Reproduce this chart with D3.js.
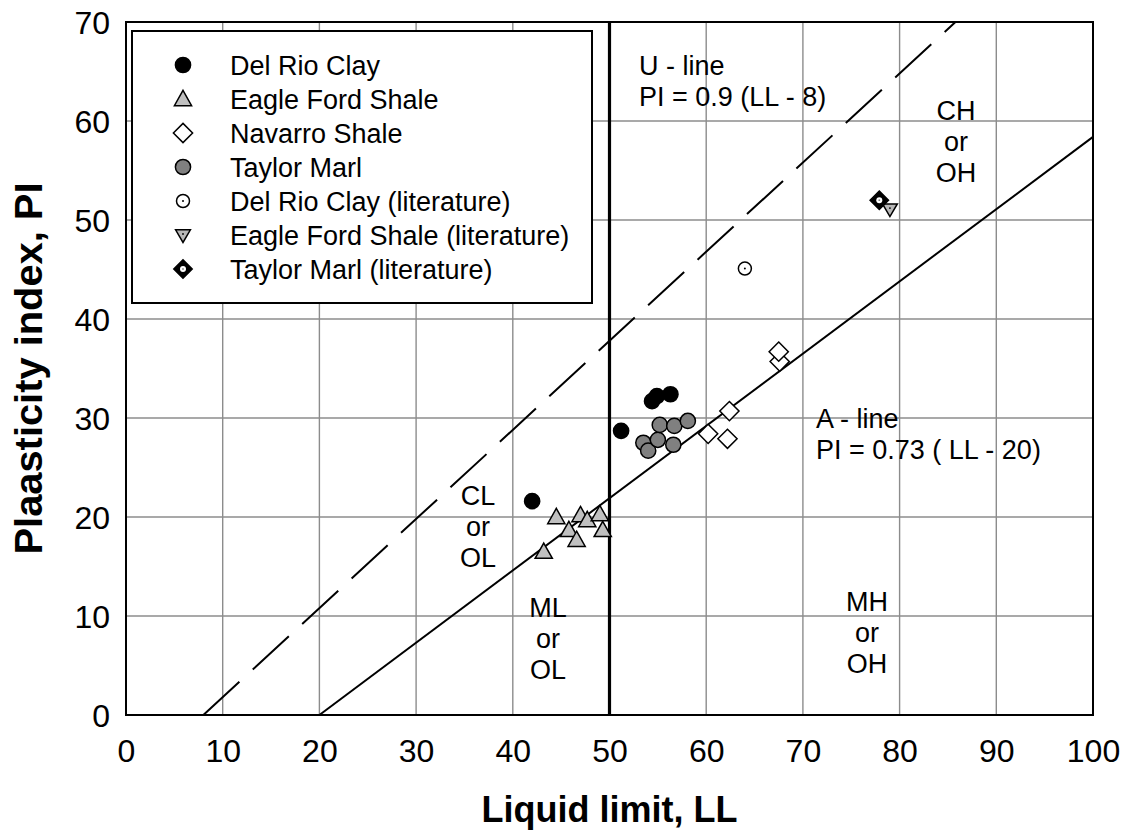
<!DOCTYPE html>
<html>
<head>
<meta charset="utf-8">
<script src="https://cdn.jsdelivr.net/npm/d3@7"></script>
<style>
  html, body { margin: 0; padding: 0; background: #fff; }
  svg { display: block; font-family: "Liberation Sans", Arial, sans-serif; }
</style>
</head>
<body>
<svg id="chart" width="1125" height="839"></svg>
<script>
// Plasticity chart: liquid limit (LL) vs plasticity index (PI)
const delRioClay = [[42.0, 21.6], [51.2, 28.7], [54.4, 31.7], [54.9, 32.2], [56.3, 32.4]];
const eagleFordShale = [[43.2, 16.5], [44.5, 20.0], [45.8, 18.7], [46.6, 17.7], [47.0, 20.2], [47.7, 19.7], [49.0, 20.3], [49.3, 18.7]];
const navarroShale = [[60.2, 28.4], [62.2, 27.9], [62.4, 30.7], [67.6, 35.7], [67.5, 36.7]];
const taylorMarl = [[53.5, 27.5], [54.0, 26.7], [55.0, 27.8], [55.2, 29.3], [56.6, 27.3], [56.7, 29.2], [58.1, 29.7]];
const delRioClayLit = [[64.0, 45.1]];
const eagleFordShaleLit = [[79.0, 51.1]];
const taylorMarlLit = [[77.9, 52.0]];

const seriesNames = ["Del Rio Clay", "Eagle Ford Shale", "Navarro Shale", "Taylor Marl",
  "Del Rio Clay (literature)", "Eagle Ford Shale (literature)", "Taylor Marl (literature)"];

const xTicks = [0, 10, 20, 30, 40, 50, 60, 70, 80, 90, 100];
const yTicks = [0, 10, 20, 30, 40, 50, 60, 70];

// Reference lines: U-line PI = 0.9 (LL - 8), A-line PI = 0.73 (LL - 20)
const uLine = [[8, 0], [8 + 70 / 0.9, 70]];
const aLine = [[20, 0], [100, 0.73 * 80]];
const llBoundary = [[50, 0], [50, 70]];

const svg = d3.select("#chart");
const x = d3.scaleLinear().domain([0, 100]).range([126, 1093]);
const y = d3.scaleLinear().domain([0, 70]).range([715, 22]);

const FONT = '"Liberation Sans", Arial, sans-serif';

// grid
const grid = svg.append("g");
grid.selectAll("line.vx").data(xTicks).join("line")
  .attr("x1", d => x(d)).attr("x2", d => x(d))
  .attr("y1", y(0)).attr("y2", y(70))
  .attr("stroke", "#8c8c8c").attr("stroke-width", 1.4);
grid.selectAll("line.hy").data(yTicks).join("line")
  .attr("x1", x(0)).attr("x2", x(100))
  .attr("y1", d => y(d)).attr("y2", d => y(d))
  .attr("stroke", "#8c8c8c").attr("stroke-width", 1.4);

// axes (labels only)
const xAxis = svg.append("g").attr("transform", `translate(0,${y(0)})`)
  .call(d3.axisBottom(x).tickValues(xTicks).tickSize(0).tickPadding(0));
xAxis.select(".domain").remove();
xAxis.selectAll("text").attr("font-size", 32).attr("font-family", FONT).attr("fill", "#000")
  .attr("y", 47).attr("dy", 0);

const yAxis = svg.append("g").attr("transform", `translate(${x(0)},0)`)
  .call(d3.axisLeft(y).tickValues(yTicks).tickSize(0).tickPadding(16));
yAxis.select(".domain").remove();
yAxis.selectAll("text").attr("font-size", 32).attr("font-family", FONT).attr("fill", "#000")
  .attr("dy", "0.36em");

// frame
svg.append("rect")
  .attr("x", x(0)).attr("y", y(70))
  .attr("width", x(100) - x(0)).attr("height", y(0) - y(70))
  .attr("fill", "none").attr("stroke", "#000").attr("stroke-width", 2);

const line = d3.line().x(d => x(d[0])).y(d => y(d[1]));

svg.append("path").datum(uLine).attr("d", line)
  .attr("fill", "none").attr("stroke", "#000").attr("stroke-width", 2)
  .attr("stroke-dasharray", "49,18.2");
svg.append("path").datum(aLine).attr("d", line)
  .attr("fill", "none").attr("stroke", "#000").attr("stroke-width", 2);
svg.append("path").datum(llBoundary).attr("d", line)
  .attr("fill", "none").attr("stroke", "#000").attr("stroke-width", 3.2);

// region and line annotations
const notes = [
  { lines: ["U - line", "PI = 0.9 (LL - 8)"], x: 639, y: 75, anchor: "start" },
  { lines: ["A - line", "PI = 0.73 ( LL - 20)"], x: 816, y: 428, anchor: "start" },
  { lines: ["CH", "or", "OH"], x: 956, y: 120, anchor: "middle" },
  { lines: ["CL", "or", "OL"], x: 478, y: 505, anchor: "middle" },
  { lines: ["ML", "or", "OL"], x: 548, y: 617, anchor: "middle" },
  { lines: ["MH", "or", "OH"], x: 867, y: 611, anchor: "middle" }
];
notes.forEach(n => {
  const t = svg.append("text").attr("font-size", 27).attr("font-family", FONT)
    .attr("text-anchor", n.anchor).attr("fill", "#000");
  n.lines.forEach((s, i) => {
    t.append("tspan").attr("x", n.x).attr("y", n.y + i * 31).text(s);
  });
});

// marker drawers
function drawMarker(g, type, cx, cy) {
  if (type === "blackCircle") {
    g.append("circle").attr("cx", cx).attr("cy", cy).attr("r", 7.6)
      .attr("fill", "#000").attr("stroke", "#000").attr("stroke-width", 1.5);
  } else if (type === "grayCircle") {
    g.append("circle").attr("cx", cx).attr("cy", cy).attr("r", 7.6)
      .attr("fill", "#808080").attr("stroke", "#000").attr("stroke-width", 1.5);
  } else if (type === "triangle") {
    const s = 8.6;
    g.append("path")
      .attr("d", `M${cx},${cy - s}L${cx + s},${cy + s * 0.78}L${cx - s},${cy + s * 0.78}Z`)
      .attr("fill", "#c0c0c0").attr("stroke", "#000").attr("stroke-width", 1.5);
  } else if (type === "diamond") {
    const s = 9.6;
    g.append("path")
      .attr("d", `M${cx},${cy - s}L${cx + s},${cy}L${cx},${cy + s}L${cx - s},${cy}Z`)
      .attr("fill", "#fff").attr("stroke", "#000").attr("stroke-width", 1.5);
  } else if (type === "openCircleDot") {
    g.append("circle").attr("cx", cx).attr("cy", cy).attr("r", 6.5)
      .attr("fill", "#fff").attr("stroke", "#000").attr("stroke-width", 1.5);
    g.append("circle").attr("cx", cx).attr("cy", cy).attr("r", 1)
      .attr("fill", "#000");
  } else if (type === "invTriangle") {
    const s = 7.4;
    g.append("path")
      .attr("d", `M${cx - s},${cy - s * 0.7}L${cx + s},${cy - s * 0.7}L${cx},${cy + s}Z`)
      .attr("fill", "#b8b8b8").attr("stroke", "#000").attr("stroke-width", 1.5);
    g.append("circle").attr("cx", cx).attr("cy", cy - 1).attr("r", 0.9).attr("fill", "#000");
  } else if (type === "blackDiamond") {
    const s = 9.2;
    g.append("path")
      .attr("d", `M${cx},${cy - s}L${cx + s},${cy}L${cx},${cy + s}L${cx - s},${cy}Z`)
      .attr("fill", "#000").attr("stroke", "#000").attr("stroke-width", 1.5);
    g.append("circle").attr("cx", cx).attr("cy", cy).attr("r", 3).attr("fill", "#fff");
    g.append("circle").attr("cx", cx).attr("cy", cy).attr("r", 0.9).attr("fill", "#888");
  }
}

const seriesData = [delRioClay, eagleFordShale, navarroShale, taylorMarl,
  delRioClayLit, eagleFordShaleLit, taylorMarlLit];
const markerTypes = ["blackCircle", "triangle", "diamond", "grayCircle",
  "openCircleDot", "invTriangle", "blackDiamond"];

// plot order: literature points first, then test data
const plotOrder = [4, 5, 6, 2, 1, 3, 0];
const pts = svg.append("g");
plotOrder.forEach(i => {
  seriesData[i].forEach(d => drawMarker(pts, markerTypes[i], x(d[0]), y(d[1])));
});

// legend
const legend = svg.append("g");
legend.append("rect").attr("x", 132).attr("y", 31).attr("width", 460).attr("height", 272)
  .attr("fill", "#fff").attr("stroke", "#000").attr("stroke-width", 2);
seriesNames.forEach((name, i) => {
  const cy = 65 + i * 34;
  drawMarker(legend, markerTypes[i], 183, cy);
  legend.append("text").attr("x", 230).attr("y", cy + 9.5)
    .attr("font-size", 27).attr("font-family", FONT).attr("fill", "#000").text(name);
});

// axis titles
svg.append("text").attr("x", x(50)).attr("y", 822).attr("text-anchor", "middle")
  .attr("font-size", 36).attr("font-weight", "bold").attr("font-family", FONT)
  .text("Liquid limit, LL");
svg.append("text").attr("transform", `translate(42,${(y(0) + y(70)) / 2}) rotate(-90)`)
  .attr("text-anchor", "middle")
  .attr("font-size", 38).attr("font-weight", "bold").attr("font-family", FONT)
  .attr("textLength", 372).attr("lengthAdjust", "spacingAndGlyphs")
  .text("Plaasticity index, PI");
</script>
</body>
</html>
